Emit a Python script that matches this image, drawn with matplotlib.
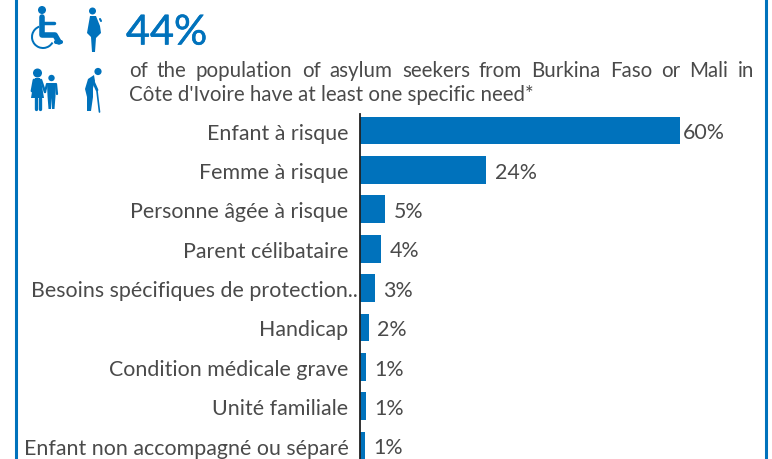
import matplotlib
matplotlib.use("Agg")
import matplotlib.pyplot as plt
import matplotlib.patheffects as pe
from matplotlib.patches import Circle, Polygon, Wedge, Ellipse

plt.rcParams['font.family'] = ['Lato', 'DejaVu Sans']

categories = ["Enfant à risque", "Femme à risque", "Personne âgée à risque",
              "Parent célibataire", "Besoins spécifiques de protection..",
              "Handicap", "Condition médicale grave", "Unité familiale",
              "Enfant non accompagné ou séparé"]
values = [60, 23.7, 4.7, 4.0, 2.8, 1.6, 1.2, 1.2, 1.0]
labels = ["60%", "24%", "5%", "4%", "3%", "2%", "1%", "1%", "1%"]
big_number = "44%"
line1 = "of the population of asylum seekers from Burkina Faso or Mali in"
line2 = "Côte d'Ivoire have at least one specific need*"

BLUE = "#0072BC"
GREY = "#4a4a4a"
W, H = 772, 460

fig = plt.figure(figsize=(W / 100, H / 100), dpi=100)

# axe en pixels pour le cadre, les icones et le texte
bg = fig.add_axes([0, 0, 1, 1])
bg.set_xlim(0, W)
bg.set_ylim(H, 0)
bg.axis('off')

bg.plot([15.5, 15.5], [0, H], color=BLUE, lw=2.2)
bg.plot([765.5, 765.5], [0, H], color=BLUE, lw=2.2)


def poly(pts):
    bg.add_patch(Polygon(pts, closed=True, fc=BLUE, ec='none'))


def limb(pts, lw):
    xs, ys = zip(*pts)
    bg.plot(xs, ys, color=BLUE, lw=lw, solid_capstyle='round', solid_joinstyle='round')


# fauteuil roulant
bg.add_patch(Circle((42, 11), 4, fc=BLUE))
limb([(42, 18), (42, 36), (55, 36), (59, 43)], 4)
limb([(42, 24), (54, 24)], 2.5)
bg.add_patch(Wedge((43, 38), 12, 30, 250, width=2, fc=BLUE, ec='none'))
limb([(56, 43), (61, 43)], 3)

# femme enceinte
bg.add_patch(Circle((92.5, 12), 3.5, fc=BLUE))
poly([(90, 17), (96, 17), (100, 27), (101, 34), (96, 39), (95, 53), (92, 53), (91, 38), (87, 34)])
bg.add_patch(Ellipse((97, 31), 6, 11, fc=BLUE, ec='none'))
limb([(100, 20), (101, 22)], 1.5)

# femme et enfant
bg.add_patch(Circle((37.5, 74), 4.5, fc=BLUE))
poly([(35, 79), (40, 79), (42, 87), (44, 99), (31, 99), (33, 87)])
limb([(34, 81), (32, 92)], 2)
limb([(41, 81), (45, 93)], 1.8)
limb([(35.5, 99), (35.5, 110)], 2.4)
limb([(39.5, 99), (39.5, 110)], 2.4)
bg.add_patch(Circle((51.5, 79), 3.2, fc=BLUE))
poly([(47, 84), (56, 84), (55.5, 97), (54.5, 110), (52, 110), (51.5, 99), (51, 110), (48.5, 110), (47.5, 97)])
limb([(47, 85), (45, 93)], 1.6)
limb([(56, 85), (57, 95)], 1.6)

# personne agee
bg.add_patch(Circle((98, 72.5), 3.6, fc=BLUE))
poly([(94, 76), (88, 80), (85, 90), (87, 98), (87, 112), (91, 112), (93, 98), (93, 89), (95, 82)])
limb([(93, 82), (97, 91)], 2)
limb([(97, 92), (99.5, 113)], 1.2)

num = bg.text(126, 34, big_number, color=BLUE, fontsize=29.8, ha='left', va='center')
num.set_path_effects([pe.withStroke(linewidth=0.4, foreground=BLUE)])


def justified(text, x0, x1, y):
    # place les mots un par un pour remplir la largeur
    words = text.split()
    r = fig.canvas.get_renderer()
    items = [bg.text(0, y, w, color=GREY, fontsize=14.8, ha='left', va='baseline') for w in words]
    widths = [t.get_window_extent(r).width for t in items]
    gap = (x1 - x0 - sum(widths)) / (len(words) - 1)
    x = x0
    for t, w in zip(items, widths):
        t.set_x(x)
        x += w + gap


justified(line1, 129, 754, 77)
bg.text(129, 101, line2, color=GREY, fontsize=14.8, ha='left', va='baseline')

# barres: 5.33 px par %, pas de 39.4 px
left, right = 360, 760
top, bottom = 115, 460
ax = fig.add_axes([left / W, 1 - bottom / H, (right - left) / W, (bottom - top) / H])
ax.patch.set_alpha(0)
ax.barh(range(len(values)), values, height=0.71, color=BLUE)
ax.set_xlim(0, (right - left) / 5.33)
ax.set_ylim((bottom - 131.5) / 39.4, (top - 131.5) / 39.4)
ax.set_yticks(range(len(categories)))
ax.set_yticklabels(categories, fontsize=15.4, color=GREY)
ax.tick_params(axis='y', length=0, pad=11.5 * 0.72)
# ce libelle tronque deborde jusqu'a l'axe
ax.yaxis.get_major_ticks()[4].set_pad(1.4)
ax.xaxis.set_visible(False)
for s in ['top', 'right', 'bottom']:
    ax.spines[s].set_visible(False)
ax.spines['left'].set_linewidth(1.3)
ax.spines['left'].set_color('#222222')

for i, (v, lab) in enumerate(zip(values, labels)):
    pad = 2 if i == 0 else 6
    ax.annotate(lab, (v, i), xytext=(pad, -1.2), textcoords='offset points',
                va='center', ha='left', fontsize=15.4, color=GREY)

fig.savefig("out.png", dpi=100)
